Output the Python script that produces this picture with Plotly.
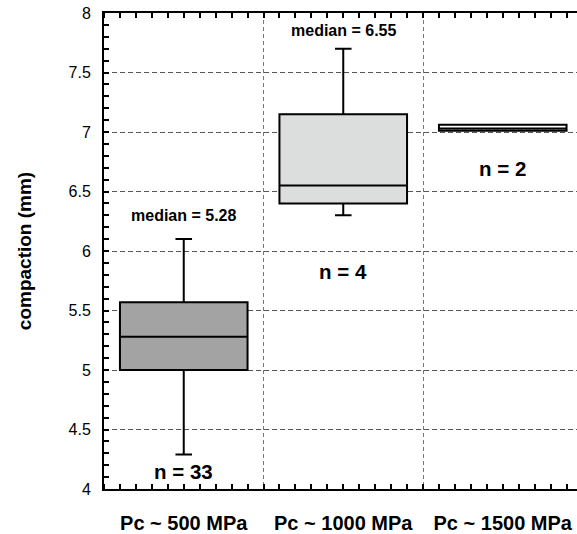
import plotly.graph_objects as go

categories = ["Pc ~ 500 MPa", "Pc ~ 1000 MPa", "Pc ~ 1500 MPa"]
q1 = [5.00, 6.40, 7.01]
median = [5.28, 6.55, 7.03]
q3 = [5.57, 7.15, 7.06]
lower = [4.29, 6.30, 7.01]
upper = [6.10, 7.70, 7.06]
counts = [33, 4, 2]
fills = ["#a3a3a3", "#dcdddd", "#ffffff"]
median_labels = ["median = 5.28", "median = 6.55", None]
median_label_y = [6.30, 7.85, None]
n_label_y = [4.15, 5.83, 6.69]
y_ticks = [4, 4.5, 5, 5.5, 6, 6.5, 7, 7.5, 8]

FONT = "Liberation Sans, Arial, sans-serif"

fig = go.Figure()
for i, cat in enumerate(categories):
    fig.add_trace(go.Box(
        x=[i], q1=[q1[i]], median=[median[i]], q3=[q3[i]],
        lowerfence=[lower[i]], upperfence=[upper[i]],
        fillcolor=fills[i], line=dict(color="black", width=2),
        width=0.8, whiskerwidth=0.13, boxpoints=False,
        showlegend=False, hoverinfo="skip",
    ))

# invisible trace on second x-axis to hold category-boundary grid
fig.add_trace(go.Scatter(x=[0], y=[6], xaxis="x2", mode="markers",
                         marker=dict(opacity=0), showlegend=False, hoverinfo="skip"))

for i in range(3):
    if median_labels[i]:
        fig.add_annotation(x=i, y=median_label_y[i], text=median_labels[i],
                           showarrow=False, font=dict(family=FONT, size=16, color="black", weight="bold"))
    fig.add_annotation(x=i, y=n_label_y[i], text=f"n = {counts[i]}",
                       showarrow=False, font=dict(family=FONT, size=20.5, color="black", weight="bold"))

xr = [-0.5, 2.5 - 5.5 / 159.5]
fig.update_layout(
    width=577, height=534,
    margin=dict(l=104, r=0, t=13, b=45),
    paper_bgcolor="white", plot_bgcolor="white",
    xaxis=dict(
        range=xr, tickvals=[0, 1, 2], ticktext=categories, automargin=False,
        showgrid=False, zeroline=False,
        showline=True, linecolor="black", linewidth=2, mirror="ticks",
        ticks="", ticklabelstandoff=15,
        tickfont=dict(family=FONT, size=20, color="black", weight="bold"),
        minor=dict(tick0=-0.5, dtick=0.1, ticks="inside", ticklen=5, tickwidth=2,
                   tickcolor="black", showgrid=False),
    ),
    xaxis2=dict(
        range=xr, overlaying="x", tickvals=[0.5, 1.5], showticklabels=False,
        showgrid=True, gridcolor="#777777", griddash="4px,3px", gridwidth=1.2,
        ticks="", zeroline=False, showline=False, automargin=False,
    ),
    yaxis=dict(
        range=[4, 8], tickvals=y_ticks, ticktext=[f"{v:g}" for v in y_ticks],
        automargin=False,
        showgrid=True, gridcolor="#555555", griddash="5px,3px", gridwidth=1,
        zeroline=False, showline=True, linecolor="black", linewidth=2,
        ticks="inside", ticklen=5, tickwidth=2, tickcolor="black",
        ticklabelstandoff=8,
        tickfont=dict(family=FONT, size=16, color="black"),
        minor=dict(dtick=0.1, ticks="inside", ticklen=5, tickwidth=2,
                   tickcolor="black", showgrid=False),
        title=dict(text="compaction (mm)", standoff=32,
                   font=dict(family=FONT, size=19, color="black", weight="bold")),
    ),
)

fig.write_html("out.html", config={"displayModeBar": False},
               post_script="document.body.style.margin='0';document.body.style.overflow='hidden';")
